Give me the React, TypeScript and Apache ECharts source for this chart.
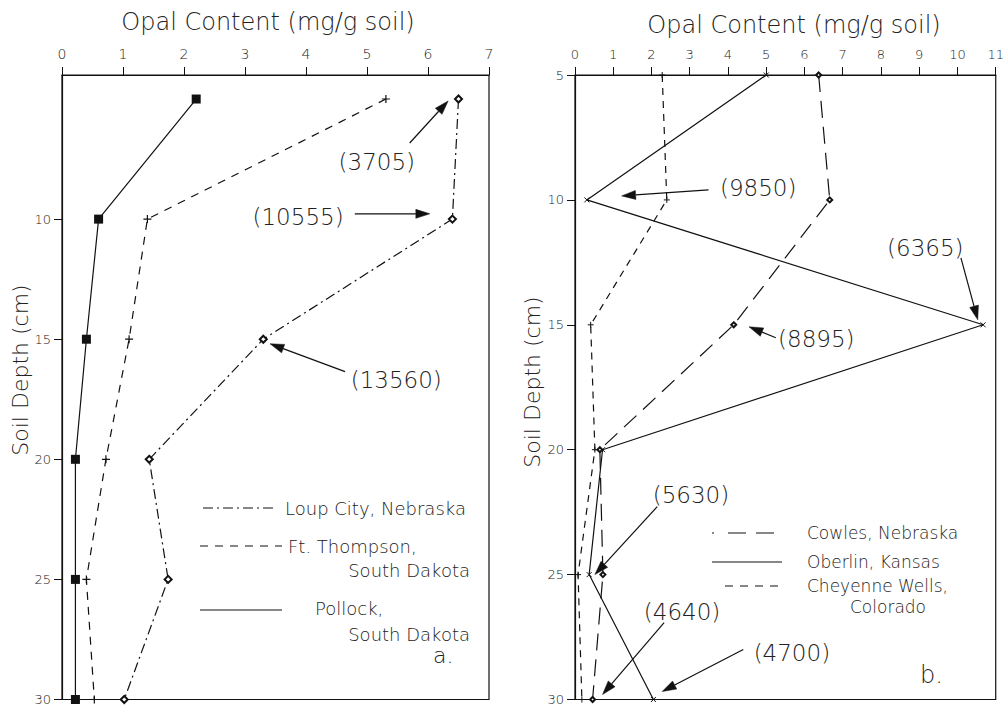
import React, { useEffect, useRef } from "react";
import * as echarts from "echarts";

// ---- Data ----
const depths = [5, 10, 15, 20, 25, 30];

// Panel a.
const loupCity = [6.5, 6.4, 3.3, 1.43, 1.74, 1.02];
const ftThompson = [5.31, 1.4, 1.1, 0.72, 0.4, 0.53];
const pollock = [2.2, 0.6, 0.4, 0.22, 0.22, 0.22];

// Panel b.
const cowles = [6.37, 6.66, 4.15, 0.65, 0.73, 0.46];
const oberlin = [5.0, 0.31, 10.67, 0.72, 0.37, 2.05];
const cheyenne = [2.28, 2.4, 0.41, 0.52, 0.08, 0.18];

const depthTicksA = [10, 15, 20, 25, 30];

// Annotations in data coordinates: [opal, depth]
const annotationsA = [
  { label: "(3705)", text: [5.16, 7.62], from: [5.7, 6.83], to: [6.33, 5.08] },
  { label: "(10555)", text: [3.87, 9.91], from: [4.8, 9.78], to: [6.03, 9.78] },
  { label: "(13560)", text: [5.48, 16.69], from: [4.64, 16.35], to: [3.41, 15.19] },
];
const annotationsB = [
  { label: "(9850)", text: [4.79, 9.52], from: [3.49, 9.6], to: [1.22, 9.84] },
  { label: "(6365)", text: [9.16, 11.92], from: [10.09, 12.32], to: [10.53, 14.8] },
  { label: "(8895)", text: [6.31, 15.56], from: [5.25, 15.52], to: [4.55, 15.08] },
  { label: "(5630)", text: [3.03, 21.8], from: [2.15, 22.28], to: [0.52, 25.0] },
  { label: "(4640)", text: [2.8, 26.48], from: [2.33, 26.92], to: [0.72, 29.8] },
  { label: "(4700)", text: [5.67, 28.12], from: [4.4, 28.0], to: [2.28, 29.68] },
];

const FONT = "DejaVu Sans";
const WEIGHT = 200;
const INK = "#111";
const TXT = "#222";
const PLUS = "path://M5,0L5,10M0,5L10,5";
const XMARK = "path://M0,0L10,10M10,0L0,10";

const pairs = (vals: number[]) => vals.map((v, i) => [v, depths[i]]);

export default function App() {
  const ref = useRef<HTMLDivElement>(null);

  useEffect(() => {
    if (!ref.current) return;
    const chart = echarts.init(ref.current, null, { renderer: "svg" });

    const axisLabelStyle = { color: TXT, fontFamily: FONT, fontWeight: WEIGHT };
    const lineSeries = (
      name: string,
      vals: number[],
      idx: number,
      dash: any,
      symbol: string,
      size: number,
      item: any
    ) => ({
      name,
      type: "line",
      xAxisIndex: idx,
      yAxisIndex: idx,
      data: pairs(vals),
      symbol,
      symbolSize: size,
      showSymbol: true,
      lineStyle: { color: INK, width: 1.2, type: dash },
      itemStyle: item,
      z: 3,
    });

    const option: any = {
      animation: false,
      backgroundColor: "#fff",
      grid: [
        { left: 62, top: 75, width: 427, height: 625, show: true, borderColor: INK, borderWidth: 1.2 },
        { left: 575, top: 75, width: 425, height: 625, show: true, borderColor: INK, borderWidth: 1.2 },
      ],
      xAxis: [
        {
          type: "value", gridIndex: 0, position: "top", min: 0, max: 7, interval: 1,
          axisLine: { show: true, lineStyle: { color: INK, width: 1.2 } },
          axisTick: { show: true, inside: false, length: 8, lineStyle: { color: INK } },
          axisLabel: { ...axisLabelStyle, fontSize: 14, margin: 14 },
          splitLine: { show: false },
        },
        {
          type: "value", gridIndex: 1, position: "top", min: 0, max: 11, interval: 1,
          axisLine: { show: true, lineStyle: { color: INK, width: 1.2 } },
          axisTick: { show: true, inside: false, length: 8, lineStyle: { color: INK } },
          axisLabel: { ...axisLabelStyle, fontSize: 13, margin: 14 },
          splitLine: { show: false },
        },
      ],
      yAxis: [
        {
          type: "value", gridIndex: 0, inverse: true, min: 4, max: 30,
          axisLine: { show: true, lineStyle: { color: INK, width: 1.2 } },
          axisTick: { show: true, inside: false, length: 8, customValues: depthTicksA, lineStyle: { color: INK } },
          axisLabel: { ...axisLabelStyle, fontSize: 13, margin: 11, customValues: depthTicksA },
          splitLine: { show: false },
        },
        {
          type: "value", gridIndex: 1, inverse: true, min: 5, max: 30, interval: 5,
          axisLine: { show: true, lineStyle: { color: INK, width: 1.2 } },
          axisTick: { show: true, inside: false, length: 8, lineStyle: { color: INK } },
          axisLabel: { ...axisLabelStyle, fontSize: 13, margin: 11 },
          splitLine: { show: false },
        },
      ],
      series: [
        lineSeries("Loup City, Nebraska", loupCity, 0, [10, 4, 2, 4], "emptyDiamond", 7,
          { color: INK, borderColor: INK, borderWidth: 1 }),
        lineSeries("Ft. Thompson, South Dakota", ftThompson, 0, [8, 7], PLUS, 8,
          { color: "none", borderColor: INK, borderWidth: 1.2 }),
        lineSeries("Pollock, South Dakota", pollock, 0, "solid", "rect", 9,
          { color: INK }),
        lineSeries("Cowles, Nebraska", cowles, 1, [17, 9], "emptyDiamond", 5,
          { color: INK, borderColor: INK, borderWidth: 1 }),
        lineSeries("Oberlin, Kansas", oberlin, 1, "solid", XMARK, 5,
          { color: "none", borderColor: INK, borderWidth: 1 }),
        lineSeries("Cheyenne Wells, Colorado", cheyenne, 1, [7, 6], PLUS, 6,
          { color: "none", borderColor: INK, borderWidth: 1 }),
      ],
    };

    chart.setOption(option);

    const graphics: any[] = [];
    const text = (t: string, x: number, y: number, size: number, align = "left", extra: any = {}) =>
      graphics.push({
        type: "text", x, y, z: 10, ...extra,
        style: {
          text: t, fill: TXT, fontSize: size, fontFamily: FONT, fontWeight: WEIGHT,
          align, verticalAlign: "middle",
        },
      });
    const seg = (x1: number, y1: number, x2: number, y2: number, dash?: number[]) =>
      graphics.push({
        type: "line", z: 10,
        shape: { x1, y1, x2, y2 },
        style: { stroke: INK, lineWidth: 1.2, lineDash: dash },
      });

    // Titles
    text("Opal Content (mg/g soil)", 268, 22, 24, "center");
    text("Opal Content (mg/g soil)", 794, 25, 24, "center");
    text("Soil Depth (cm)", 20, 370, 22, "center", { rotation: Math.PI / 2 });
    text("Soil Depth (cm)", 532, 382, 22, "center", { rotation: Math.PI / 2 });

    // Annotations with arrows (positions via axis scales)
    const addArrows = (list: any[], gridIndex: number) => {
      list.forEach((a) => {
        const tp = chart.convertToPixel({ gridIndex } as any, a.text) as number[];
        const f = chart.convertToPixel({ gridIndex } as any, a.from) as number[];
        const t = chart.convertToPixel({ gridIndex } as any, a.to) as number[];
        text(a.label, tp[0], tp[1], 23, "center");
        const dx = t[0] - f[0], dy = t[1] - f[1];
        const len = Math.hypot(dx, dy);
        const ux = dx / len, uy = dy / len;
        const L = 14, W = 4.5;
        const bx = t[0] - ux * L, by = t[1] - uy * L;
        const nx = -uy, ny = ux;
        seg(f[0], f[1], bx, by);
        graphics.push({
          type: "polygon", z: 10,
          shape: { points: [[t[0], t[1]], [bx + nx * W, by + ny * W], [bx - nx * W, by - ny * W]] },
          style: { fill: INK, stroke: INK, lineWidth: 0.5 },
        });
      });
    };
    addArrows(annotationsA, 0);
    addArrows(annotationsB, 1);

    // Legend, panel a.
    seg(203, 508, 277, 508, [10, 4, 2, 4]);
    text("Loup City, Nebraska", 285, 508, 18);
    seg(200, 546, 282, 546, [8, 7]);
    text("Ft. Thompson,", 288, 546, 18);
    text("South Dakota", 470, 570, 18, "right");
    seg(200, 610, 282, 610);
    text("Pollock,", 315, 608, 18);
    text("South Dakota", 470, 634, 18, "right");
    text("a.", 433, 655, 22);

    // Legend, panel b.
    seg(712, 533, 782, 533, [2, 14, 18, 10, 18, 10]);
    text("Cowles, Nebraska", 807, 533, 17);
    seg(712, 562, 782, 562);
    text("Oberlin, Kansas", 807, 562, 17);
    seg(725, 586, 782, 586, [8, 7]);
    text("Cheyenne Wells,", 807, 586, 17);
    text("Colorado", 850, 607, 17);
    text("b.", 920, 675, 24);

    chart.setOption({ graphic: graphics });

    return () => chart.dispose();
  }, []);

  return (
    <div
      ref={ref}
      style={{ position: "absolute", left: 0, top: 0, width: 1007, height: 706, background: "#fff" }}
    />
  );
}
